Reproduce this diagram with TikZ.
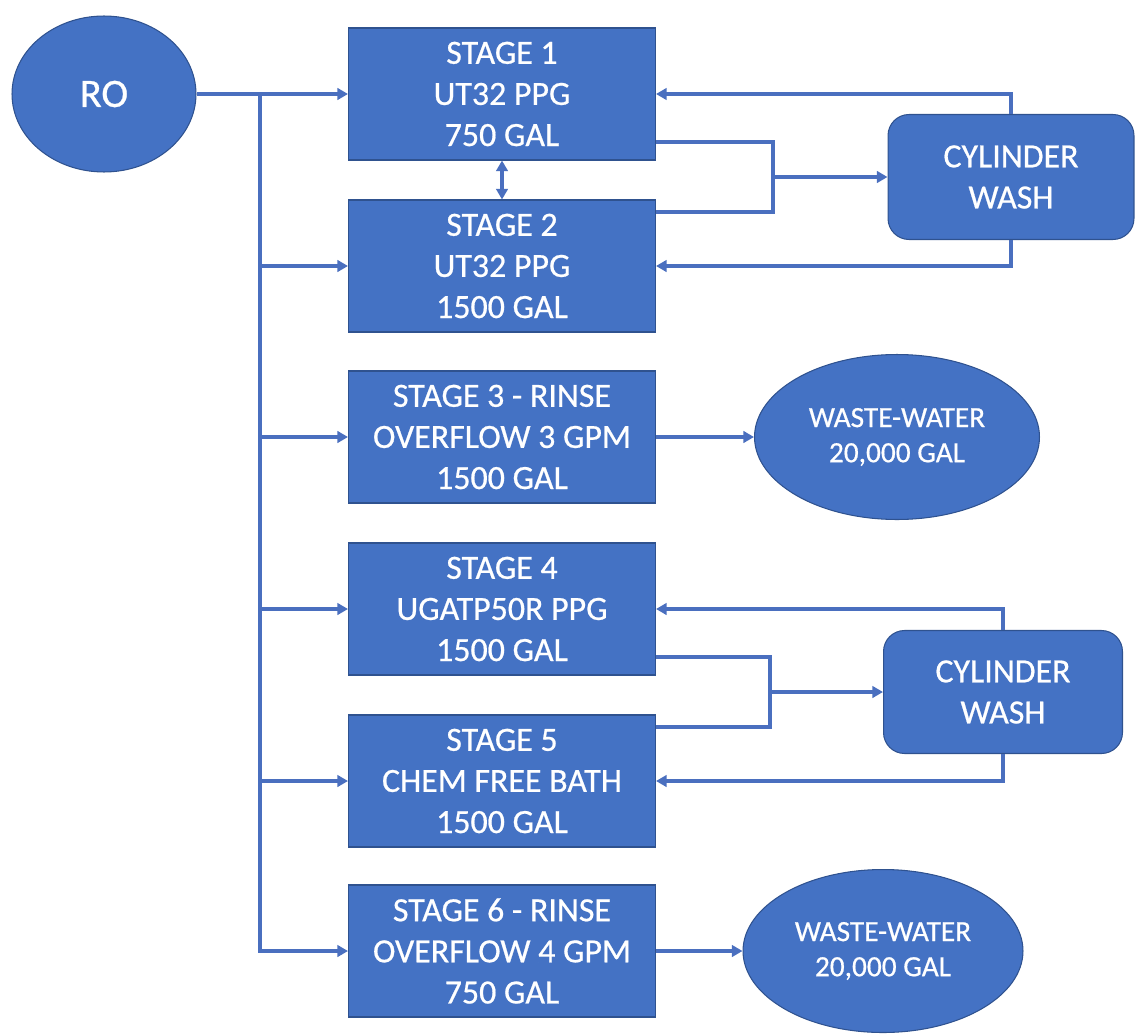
\documentclass[tikz,border=0pt]{standalone}
\usepackage{fontspec}
\setmainfont{Carlito}
\newfontfamily\boxfont{Carlito}[FakeBold=0.6]
\usetikzlibrary{arrows.meta,shapes.geometric}
\definecolor{BoxClr}{HTML}{4472C4}
\definecolor{EdgeClr}{HTML}{2F528F}
\definecolor{FlowClr}{HTML}{4A6FBF}

\begin{document}
\begin{tikzpicture}[x=0.02cm,y=-0.02cm,
  stagebox/.style={rectangle,fill=BoxClr,draw=EdgeClr,line width=0.6pt,
    minimum width=6.14cm,minimum height=2.64cm,text=white,align=center,
    font=\boxfont\fontsize{19.3}{23.4}\selectfont},
  washbox/.style={rectangle,rounded corners=0.42cm,fill=BoxClr,draw=EdgeClr,
    line width=0.6pt,text=white,align=center,font=\boxfont\fontsize{19.3}{23.4}\selectfont},
  tank/.style={ellipse,fill=BoxClr,draw=EdgeClr,line width=0.6pt,inner sep=0pt,
    text=white,align=center,font=\boxfont\fontsize{16.7}{20}\selectfont},
  pipe/.style={draw=FlowClr,line width=2pt},
  flow/.style={pipe,-{Triangle[length=6pt,width=6.5pt]}},
  both/.style={pipe,{Triangle[length=6pt,width=6.5pt]}-{Triangle[length=6pt,width=6.5pt]}}]

\useasboundingbox (0,0) rectangle (1135,1034);

\node[tank,minimum width=3.68cm,minimum height=3.12cm,font=\boxfont\fontsize{23}{28}\selectfont] (ro) at (104,94) {RO};

\node[stagebox] (s1) at (502,94)  {STAGE 1\\UT32 PPG\\750 GAL};
\node[stagebox] (s2) at (502,266) {STAGE 2\\UT32 PPG\\1500 GAL};
\node[stagebox] (s3) at (502,437) {STAGE 3 - RINSE\\OVERFLOW 3 GPM\\1500 GAL};
\node[stagebox] (s4) at (502,609) {STAGE 4\\UGATP50R PPG\\1500 GAL};
\node[stagebox] (s5) at (502,781) {STAGE 5\\CHEM FREE BATH\\1500 GAL};
\node[stagebox] (s6) at (502,951) {STAGE 6 - RINSE\\OVERFLOW 4 GPM\\750 GAL};

\node[washbox,minimum width=4.92cm,minimum height=2.5cm] (cw1) at (1011,177) {CYLINDER\\WASH};
\node[washbox,minimum width=4.78cm,minimum height=2.46cm] (cw2) at (1003,692) {CYLINDER\\WASH};

\node[tank,minimum width=5.7cm,minimum height=3.3cm] (ww1) at (897,437) {WASTE-WATER\\20,000 GAL};
\node[tank,minimum width=5.6cm,minimum height=3.26cm] (ww2) at (883,951) {WASTE-WATER\\20,000 GAL};

\coordinate (trunk) at (260,94);
\coordinate (j1) at (773,177);
\coordinate (j2) at (770,692);

\draw[flow] (ro.east) -- (s1.west);
\foreach \s in {s2,s3,s4,s5}
  \draw[flow] (trunk |- \s.west) -- (\s.west);
\draw[flow] (trunk) |- (s6.west);

\draw[both] (s1.south) -- (s2.north);

\draw[pipe] ([yshift=-0.96cm]s1.east) -| (j1) |- ([yshift=1.08cm]s2.east);
\draw[flow] (j1) -- (cw1.west);
\draw[flow] (cw1.north) |- (s1.east);
\draw[flow] (cw1.south) |- (s2.east);

\draw[pipe] ([yshift=-0.96cm]s4.east) -| (j2) |- ([yshift=1.08cm]s5.east);
\draw[flow] (j2) -- (cw2.west);
\draw[flow] (cw2.north) |- (s4.east);
\draw[flow] (cw2.south) |- (s5.east);

\draw[flow] (s3.east) -- (ww1.west);
\draw[flow] (s6.east) -- (ww2.west);

\end{tikzpicture}
\end{document}
